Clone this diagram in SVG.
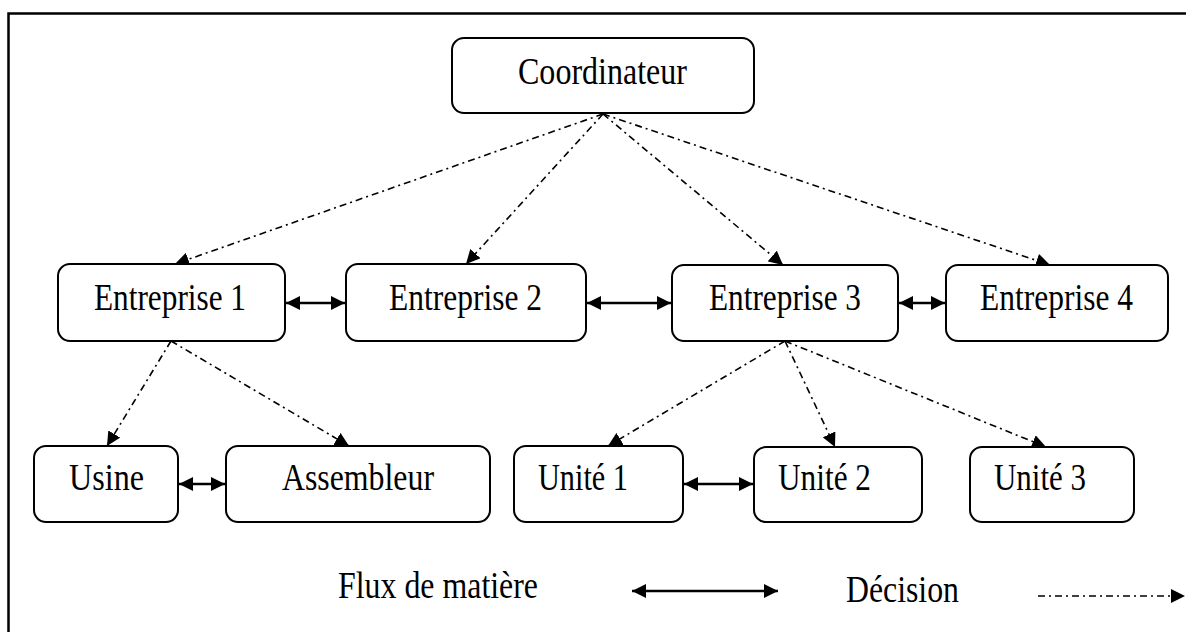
<svg xmlns="http://www.w3.org/2000/svg" width="1186" height="632" viewBox="0 0 1186 632">
<style>
.box{fill:#fff;stroke:#000;stroke-width:2}
.lbl{font-family:"Liberation Serif","Times New Roman",serif;font-size:37px;fill:#000}
.flow{stroke:#000;stroke-width:2.4;fill:none;marker-start:url(#ah);marker-end:url(#ah)}
.dec{stroke:#000;stroke-width:1.6;fill:none;stroke-dasharray:7 4 2 4;marker-end:url(#ah)}
</style>
<defs>
<marker id="ah" viewBox="0 0 14 14" refX="14" refY="7" markerWidth="14" markerHeight="14" markerUnits="userSpaceOnUse" orient="auto-start-reverse">
<path d="M0,0 L14,7 L0,14 Z" fill="#000"/>
</marker>
</defs>
<rect width="1186" height="632" fill="#fff"/>
<path d="M8.5,632 L8.5,13.5 L1186,13.5" fill="none" stroke="#000" stroke-width="2.5"/>

<g id="connectors">
<line class="dec" x1="603" y1="114" x2="175" y2="264"/>
<line class="dec" x1="603" y1="114" x2="466" y2="264"/>
<line class="dec" x1="603" y1="114" x2="783" y2="265"/>
<line class="dec" x1="603" y1="114" x2="1050" y2="265"/>
<line class="dec" x1="171" y1="341" x2="107" y2="446"/>
<line class="dec" x1="171" y1="341" x2="349" y2="446"/>
<line class="dec" x1="785" y1="341" x2="608" y2="446"/>
<line class="dec" x1="785" y1="341" x2="835" y2="447"/>
<line class="dec" x1="785" y1="341" x2="1046" y2="447"/>
<line class="flow" x1="286" y1="303" x2="345" y2="303"/>
<line class="flow" x1="587" y1="303" x2="671" y2="303"/>
<line class="flow" x1="899" y1="303" x2="945" y2="303"/>
<line class="flow" x1="179" y1="484" x2="225" y2="484"/>
<line class="flow" x1="684" y1="484" x2="753" y2="484"/>
</g>

<g id="coordinateur">
<rect class="box" x="452" y="38" width="302" height="75" rx="12"/>
<text class="lbl" x="518" y="84" textLength="169" lengthAdjust="spacingAndGlyphs">Coordinateur</text>
</g>
<g id="entreprise1">
<rect class="box" x="58" y="264" width="227" height="77" rx="12"/>
<text class="lbl" x="94" y="310" textLength="152" lengthAdjust="spacingAndGlyphs">Entreprise 1</text>
</g>
<g id="entreprise2">
<rect class="box" x="346" y="264" width="240" height="77" rx="12"/>
<text class="lbl" x="389" y="310" textLength="153" lengthAdjust="spacingAndGlyphs">Entreprise 2</text>
</g>
<g id="entreprise3">
<rect class="box" x="672" y="265" width="226" height="76" rx="12"/>
<text class="lbl" x="709" y="310" textLength="152" lengthAdjust="spacingAndGlyphs">Entreprise 3</text>
</g>
<g id="entreprise4">
<rect class="box" x="946" y="265" width="222" height="76" rx="12"/>
<text class="lbl" x="980" y="310" textLength="153" lengthAdjust="spacingAndGlyphs">Entreprise 4</text>
</g>
<g id="usine">
<rect class="box" x="34" y="446" width="144" height="76" rx="12"/>
<text class="lbl" x="69" y="490" textLength="75" lengthAdjust="spacingAndGlyphs">Usine</text>
</g>
<g id="assembleur">
<rect class="box" x="226" y="446" width="264" height="76" rx="12"/>
<text class="lbl" x="282" y="490" textLength="152" lengthAdjust="spacingAndGlyphs">Assembleur</text>
</g>
<g id="unite1">
<rect class="box" x="514" y="446" width="169" height="76" rx="12"/>
<text class="lbl" x="538" y="490" textLength="90" lengthAdjust="spacingAndGlyphs">Unité 1</text>
</g>
<g id="unite2">
<rect class="box" x="754" y="447" width="168" height="75" rx="12"/>
<text class="lbl" x="778" y="490" textLength="93" lengthAdjust="spacingAndGlyphs">Unité 2</text>
</g>
<g id="unite3">
<rect class="box" x="970" y="447" width="164" height="75" rx="12"/>
<text class="lbl" x="994" y="490" textLength="92" lengthAdjust="spacingAndGlyphs">Unité 3</text>
</g>

<g id="legend">
<text class="lbl" x="338" y="598" textLength="200" lengthAdjust="spacingAndGlyphs">Flux de matière</text>
<line class="flow" x1="632" y1="591" x2="778" y2="591"/>
<text class="lbl" x="846" y="602" textLength="113" lengthAdjust="spacingAndGlyphs">Décision</text>
<line class="dec" x1="1038" y1="596" x2="1185" y2="596"/>
</g>
</svg>
